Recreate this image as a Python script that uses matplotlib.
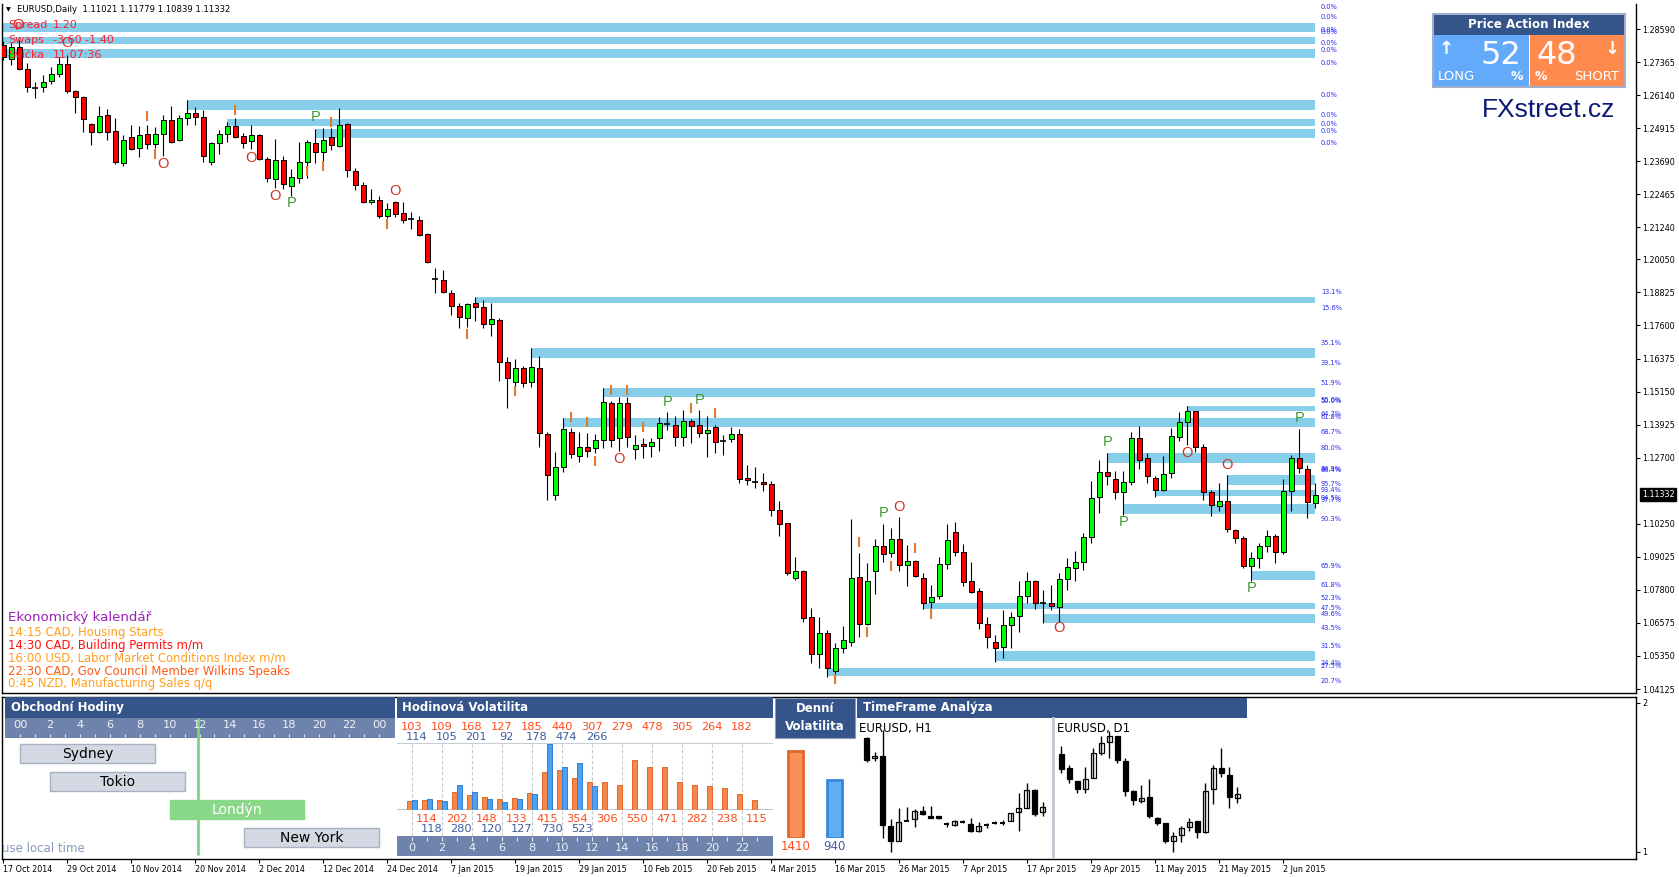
import numpy as np
import matplotlib
matplotlib.use("Agg")
import matplotlib.pyplot as plt
from matplotlib import transforms
from matplotlib.patches import Rectangle

W, H = 1679, 877

# --- denni svicky EURUSD (O, H, L, C) ---
opens = [1.2800, 1.2748, 1.2792, 1.2711, 1.2641, 1.2644, 1.2666, 1.2692, 1.2729, 1.2629,
         1.2607, 1.2507, 1.2477, 1.2540, 1.2481, 1.2362, 1.2459, 1.2418, 1.2470, 1.2433,
         1.2470, 1.2522, 1.2448, 1.2529, 1.2548, 1.2533, 1.2366, 1.2436, 1.2470, 1.2499,
         1.2462, 1.2444, 1.2466, 1.2377, 1.2303, 1.2373, 1.2277, 1.2307, 1.2366, 1.2436,
         1.2403, 1.2459, 1.2425, 1.2507, 1.2333, 1.2281, 1.2218, 1.2225, 1.2166, 1.2218,
         1.2177, 1.2155, 1.2151, 1.2100, 1.1932, 1.1929, 1.1880, 1.1832, 1.1787, 1.1843,
         1.1829, 1.1766, 1.1780, 1.1625, 1.1551, 1.1602, 1.1551, 1.1602, 1.1358, 1.1132,
         1.1235, 1.1365, 1.1276, 1.1310, 1.1306, 1.1336, 1.1473, 1.1343, 1.1473, 1.1302,
         1.1321, 1.1313, 1.1343, 1.1395, 1.1391, 1.1347, 1.1406, 1.1391, 1.1362, 1.1384,
         1.1332, 1.1339, 1.1358, 1.1195, 1.1180, 1.1180, 1.1172, 1.1076, 1.1028, 1.0824,
         1.0850, 1.0679, 1.0542, 1.0620, 1.0479, 1.0564, 1.0587, 1.0828, 1.0653, 1.0850,
         1.0943, 1.0917, 1.0969, 1.0872, 1.0887, 1.0824, 1.0735, 1.0757, 1.0876, 1.0995,
         1.0920, 1.0813, 1.0775, 1.0653, 1.0587, 1.0568, 1.0650, 1.0683, 1.0757, 1.0813,
         1.0733, 1.0731, 1.0716, 1.0820, 1.0861, 1.0883, 1.0976, 1.1124, 1.1217, 1.1191,
         1.1143, 1.1180, 1.1343, 1.1269, 1.1195, 1.1150, 1.1213, 1.1347, 1.1402, 1.1443,
         1.1310, 1.1143, 1.1091, 1.1109, 1.1002, 1.0972, 1.0868, 1.0898, 1.0943, 1.0980,
         1.0920, 1.1146, 1.1269, 1.1228, 1.11021]
highs = [1.2815, 1.2807, 1.2818, 1.2733, 1.2663, 1.2688, 1.2718, 1.2755, 1.2763, 1.2633,
         1.2611, 1.2511, 1.2574, 1.2563, 1.2529, 1.2466, 1.2503, 1.2499, 1.2503, 1.2496,
         1.2540, 1.2574, 1.2540, 1.2596, 1.2570, 1.2559, 1.2440, 1.2485, 1.2514, 1.2529,
         1.2474, 1.2503, 1.2470, 1.2385, 1.2451, 1.2388, 1.2340, 1.2440, 1.2448, 1.2488,
         1.2492, 1.2492, 1.2566, 1.2511, 1.2344, 1.2292, 1.2266, 1.2240, 1.2214, 1.2221,
         1.2218, 1.2181, 1.2166, 1.2103, 1.1973, 1.1966, 1.1892, 1.1843, 1.1843, 1.1866,
         1.1854, 1.1843, 1.1788, 1.1643, 1.1636, 1.1610, 1.1677, 1.1647, 1.1365, 1.1291,
         1.1417, 1.1380, 1.1365, 1.1362, 1.1358, 1.1528, 1.1480, 1.1495, 1.1495, 1.1354,
         1.1343, 1.1343, 1.1421, 1.1439, 1.1424, 1.1447, 1.1413, 1.1447, 1.1424, 1.1391,
         1.1354, 1.1384, 1.1376, 1.1243, 1.1235, 1.1213, 1.1184, 1.1109, 1.1028, 1.0902,
         1.0854, 1.0713, 1.0679, 1.0631, 1.0583, 1.0646, 1.1043, 1.0917, 1.0880, 1.0969,
         1.1024, 1.1009, 1.1050, 1.0946, 1.0891, 1.0842, 1.0798, 1.0902, 1.1024, 1.1032,
         1.0950, 1.0883, 1.0787, 1.0679, 1.0613, 1.0705, 1.0698, 1.0813, 1.0846, 1.0817,
         1.0780, 1.0798, 1.0842, 1.0898, 1.0924, 1.0991, 1.1184, 1.1261, 1.1287, 1.1221,
         1.1221, 1.1365, 1.1387, 1.1287, 1.1202, 1.1276, 1.1380, 1.1439, 1.1462, 1.1443,
         1.1321, 1.1150, 1.1176, 1.1206, 1.1006, 1.0980, 1.0920, 1.0954, 1.1002, 1.0987,
         1.1191, 1.1280, 1.1376, 1.1243, 1.11779]
lows = [1.2744, 1.2726, 1.2707, 1.2625, 1.2603, 1.2625, 1.2655, 1.2681, 1.2622, 1.2548,
        1.2477, 1.2429, 1.2474, 1.2448, 1.2359, 1.2351, 1.2410, 1.2385, 1.2414, 1.2418,
        1.2388, 1.2436, 1.2444, 1.2503, 1.2503, 1.2366, 1.2355, 1.2396, 1.2440, 1.2455,
        1.2418, 1.2414, 1.2373, 1.2292, 1.2270, 1.2266, 1.2240, 1.2288, 1.2307, 1.2362,
        1.2362, 1.2410, 1.2422, 1.2310, 1.2262, 1.2214, 1.2210, 1.2158, 1.2158, 1.2162,
        1.2140, 1.2118, 1.2092, 1.1992, 1.1880, 1.1880, 1.1799, 1.1751, 1.1755, 1.1776,
        1.1751, 1.1721, 1.1554, 1.1454, 1.1532, 1.1532, 1.1532, 1.1310, 1.1113, 1.1113,
        1.1217, 1.1269, 1.1254, 1.1273, 1.1287, 1.1306, 1.1310, 1.1295, 1.1310, 1.1265,
        1.1269, 1.1273, 1.1295, 1.1373, 1.1313, 1.1313, 1.1324, 1.1347, 1.1273, 1.1287,
        1.1280, 1.1328, 1.1176, 1.1168, 1.1158, 1.1146, 1.1054, 1.0980, 1.0835, 1.0817,
        1.0661, 1.0509, 1.0490, 1.0457, 1.0439, 1.0546, 1.0572, 1.0605, 1.0650, 1.0765,
        1.0883, 1.0902, 1.0850, 1.0794, 1.0828, 1.0709, 1.0713, 1.0746, 1.0857, 1.0906,
        1.0794, 1.0768, 1.0635, 1.0564, 1.0513, 1.0527, 1.0564, 1.0624, 1.0731, 1.0709,
        1.0657, 1.0705, 1.0661, 1.0780, 1.0813, 1.0854, 1.0954, 1.1065, 1.1169, 1.1117,
        1.1058, 1.1169, 1.1228, 1.1176, 1.1124, 1.1146, 1.1195, 1.1332, 1.1317, 1.1291,
        1.1113, 1.1054, 1.1072, 1.0995, 1.0954, 1.0861, 1.0813, 1.0861, 1.0920, 1.0879,
        1.0913, 1.1072, 1.1213, 1.1046, 1.10839]
closes = [1.2755, 1.2792, 1.2711, 1.2644, 1.2640, 1.2663, 1.2692, 1.2729, 1.2629, 1.2607,
          1.2526, 1.2477, 1.2537, 1.2477, 1.2366, 1.2448, 1.2414, 1.2466, 1.2433, 1.2470,
          1.2522, 1.2440, 1.2529, 1.2548, 1.2533, 1.2388, 1.2436, 1.2470, 1.2499, 1.2459,
          1.2436, 1.2466, 1.2377, 1.2307, 1.2373, 1.2284, 1.2310, 1.2366, 1.2440, 1.2403,
          1.2448, 1.2429, 1.2503, 1.2336, 1.2281, 1.2218, 1.2225, 1.2166, 1.2192, 1.2173,
          1.2151, 1.2154, 1.2096, 1.1995, 1.1931, 1.1884, 1.1832, 1.1791, 1.1840, 1.1829,
          1.1766, 1.1784, 1.1625, 1.1565, 1.1602, 1.1547, 1.1606, 1.1362, 1.1206, 1.1235,
          1.1376, 1.1284, 1.1310, 1.1295, 1.1336, 1.1476, 1.1336, 1.1473, 1.1347, 1.1317,
          1.1313, 1.1328, 1.1399, 1.1394, 1.1347, 1.1406, 1.1387, 1.1362, 1.1373, 1.1328,
          1.1331, 1.1358, 1.1191, 1.1187, 1.1179, 1.1172, 1.1076, 1.1024, 1.0842, 1.0850,
          1.0676, 1.0542, 1.0620, 1.0490, 1.0564, 1.0594, 1.0824, 1.0653, 1.0813, 1.0943,
          1.0913, 1.0969, 1.0872, 1.0887, 1.0831, 1.0731, 1.0754, 1.0876, 1.0965, 1.0920,
          1.0809, 1.0772, 1.0657, 1.0605, 1.0564, 1.0650, 1.0679, 1.0757, 1.0813, 1.0731,
          1.0732, 1.0720, 1.0820, 1.0865, 1.0883, 1.0976, 1.1121, 1.1217, 1.1202, 1.1143,
          1.1180, 1.1343, 1.1261, 1.1202, 1.1150, 1.1210, 1.1350, 1.1402, 1.1443, 1.1310,
          1.1143, 1.1095, 1.1109, 1.1006, 1.0972, 1.0868, 1.0898, 1.0943, 1.0980, 1.0920,
          1.1146, 1.1269, 1.1232, 1.1105, 1.11332]

date_labels = ['17 Oct 2014', '29 Oct 2014', '10 Nov 2014', '20 Nov 2014', '2 Dec 2014',
               '12 Dec 2014', '24 Dec 2014', '7 Jan 2015', '19 Jan 2015', '29 Jan 2015',
               '10 Feb 2015', '20 Feb 2015', '4 Mar 2015', '16 Mar 2015', '26 Mar 2015',
               '7 Apr 2015', '17 Apr 2015', '29 Apr 2015', '11 May 2015', '21 May 2015',
               '2 Jun 2015']
price_ticks = [1.28590, 1.27365, 1.26140, 1.24915, 1.23690, 1.22465, 1.21240, 1.20050,
               1.18825, 1.17600, 1.16375, 1.15150, 1.13925, 1.12700, 1.10250, 1.09025,
               1.07800, 1.06575, 1.05350, 1.04125]

# --- zony (modre pasy) ---
band_start = [-1, -1, -1, 23, 28, 39, 59, 66, 75, 70, 148, 138, 153, 144, 140, 156, 115, 130, 124, 103]
band_low = [1.28490, 1.28023, 1.27526, 1.25588, 1.24994, 1.24538, 1.18445, 1.16406, 1.14960, 1.13848,
            1.14430, 1.12514, 1.11687, 1.11279, 1.10612, 1.08165, 1.07091, 1.06583, 1.05174, 1.04608]
band_high = [1.28801, 1.28305, 1.27838, 1.25958, 1.25254, 1.24883, 1.18645, 1.16754, 1.15283, 1.14171,
             1.14615, 1.12862, 1.12047, 1.11502, 1.10971, 1.08499, 1.07302, 1.06894, 1.05545, 1.04893]
band_end = 164

pct_labels = ['0.0%'] * 12 + ['13.1%', '15.6%', '35.1%', '39.1%', '51.9%', '55.6%', '50.0%', '64.7%',
                              '61.8%', '68.7%', '80.0%', '84.9%', '86.4%', '95.7%', '93.4%', '94.5%',
                              '97.7%', '90.3%', '65.9%', '61.8%', '52.3%', '47.5%', '49.6%', '43.5%',
                              '31.5%', '24.4%', '27.5%', '20.7%']
pct_prices = [1.29394, 1.29024, 1.28553, 1.28468, 1.28060, 1.27812, 1.27319, 1.26143, 1.25413, 1.25069,
              1.24820, 1.24353, 1.18830, 1.18248, 1.16962, 1.16220, 1.15479, 1.14838, 1.14790, 1.14337,
              1.14226, 1.13651, 1.13069, 1.12298, 1.12242, 1.11723, 1.11501, 1.11193, 1.11119, 1.10426,
              1.08684, 1.07980, 1.07509, 1.07127, 1.06905, 1.06386, 1.05718, 1.05088, 1.04995, 1.04432]

# --- znacky P / O / I ---
mark_bar = [1.8, 8, 18, 19, 20, 29, 31, 34, 36, 39, 41, 38, 40, 49, 48, 58, 64, 71, 73, 74, 76, 78,
            77, 80, 83, 87, 86, 89, 110, 112, 107, 111, 114, 108, 116, 104, 132, 138, 140, 148,
            153, 156, 162]
mark_price = [1.2874, 1.2807, 1.2533, 1.2392, 1.2359, 1.2555, 1.2381, 1.2240, 1.2214, 1.2533,
              1.2511, 1.2329, 1.2348, 1.2258, 1.2132, 1.1725, 1.1513, 1.1417, 1.1399, 1.1254,
              1.1517, 1.1517, 1.1265, 1.1380, 1.1476, 1.1484, 1.1450, 1.1432, 1.1065, 1.1087,
              1.0954, 1.0865, 1.0932, 1.0621, 1.0687, 1.0446, 1.0639, 1.1328, 1.1031, 1.1287,
              1.1243, 1.0787, 1.1417]
mark_letter = ['O', 'O', 'I', 'I', 'O', 'I', 'O', 'O', 'P', 'P', 'I', 'I', 'I', 'O', 'I', 'I', 'I',
               'I', 'I', 'I', 'I', 'I', 'O', 'I', 'P', 'P', 'I', 'I', 'P', 'O', 'I', 'I', 'I', 'I',
               'I', 'I', 'O', 'P', 'P', 'O', 'O', 'P', 'P']

info_labels = ['Spread', 'Swaps', 'Svíčka']
info_values = ['1.20', '-3.60 -1.40', '11:07:36']

cal_lines = ['Ekonomický kalendář', '14:15 CAD, Housing Starts', '14:30 CAD, Building Permits m/m',
             '16:00 USD, Labor Market Conditions Index m/m', '22:30 CAD, Gov Council Member Wilkins Speaks',
             '0:45 NZD, Manufacturing Sales q/q']
cal_colors = ['#9B1FB5', '#FFA020', '#FF1010', '#FFA020', '#FF5A14', '#FFA020']

long_pct, short_pct = 52, 48

# --- obchodni hodiny ---
sessions = ['Sydney', 'Tokio', 'Londýn', 'New York']
sess_start = [0, 2, 10, 15]
sess_len = [9, 9, 9, 9]
current_hour = 11.9

# --- hodinova volatilita ---
vol_or_even = [103, 109, 168, 127, 185, 440, 307, 279, 478, 305, 264, 182]
vol_or_odd = [114, 202, 148, 133, 415, 354, 306, 550, 471, 282, 238, 115]
vol_bl_even = [114, 105, 201, 92, 178, 474, 266]
vol_bl_odd = [118, 280, 120, 127, 730, 523]

day_vol = [1410, 940]

# --- TimeFrame analyza (relativni urovne) ---
h1_open = [357, 295, 302, 92, 47, 108, 112, 137, 122, 122, 97, 95, 105, 97, 77, 94, 102, 102, 108, 135, 147, 200, 133]
h1_close = [290, 302, 95, 48, 105, 108, 137, 127, 117, 115, 97, 107, 105, 77, 92, 94, 102, 102, 130, 147, 200, 128, 148]
h1_high = [360, 315, 380, 113, 145, 148, 143, 152, 152, 123, 105, 110, 110, 117, 103, 100, 108, 110, 130, 190, 220, 203, 163]
h1_low = [285, 288, 57, 15, 47, 107, 90, 125, 115, 114, 88, 92, 100, 75, 75, 85, 97, 96, 108, 78, 147, 123, 123]
d1_open = [307, 265, 228, 203, 237, 312, 345, 362, 287, 197, 168, 178, 117, 102, 48, 64, 90, 107, 75, 202, 265, 245, 175]
d1_close = [263, 233, 203, 232, 310, 340, 362, 290, 198, 170, 175, 122, 102, 47, 62, 87, 103, 75, 197, 265, 250, 180, 187]
d1_high = [332, 275, 228, 268, 325, 362, 377, 362, 295, 200, 215, 232, 120, 102, 75, 92, 117, 107, 220, 275, 325, 268, 210]
d1_low = [250, 220, 190, 190, 235, 305, 295, 282, 182, 154, 160, 115, 95, 42, 15, 45, 78, 55, 72, 158, 238, 145, 162]


def box(x0, y0, x1, y1):
    return [x0 / W, 1 - y1 / H, (x1 - x0) / W, (y1 - y0) / H]


def fx(x):
    return x / W


def fy(y):
    return 1 - y / H


fig = plt.figure(figsize=(W / 100, H / 100), dpi=100)
fig.patch.set_facecolor('white')


def rect(x0, y0, x1, y1, **kw):
    fig.add_artist(Rectangle((fx(x0), fy(y1)), (x1 - x0) / W, (y1 - y0) / H,
                             transform=fig.transFigure, **kw))


# ================= hlavni graf =================
ax = fig.add_axes(box(2, 4, 1636, 693))
ax.set_xlim(-0.1625, 204.09)
ax.set_ylim(1.03977, 1.29517)

o = np.array(opens)
hi = np.array(highs)
lo = np.array(lows)
c = np.array(closes)
idx = np.arange(len(o))
up = c > o + 0.00012
dn = c < o - 0.00012
dj = ~(up | dn)

bs = np.array(band_start)
bl = np.array(band_low)
bh = np.array(band_high)
ax.barh((bl + bh) / 2, band_end - bs, left=bs, height=bh - bl, color='#87CEEB', zorder=1)

ax.vlines(idx, lo, hi, color='black', lw=0.8, zorder=3)
ax.bar(idx[up], (c - o)[up], bottom=o[up], width=0.6, color='#00FF00', edgecolor='black', lw=0.7, zorder=4)
ax.bar(idx[dn], (o - c)[dn], bottom=c[dn], width=0.6, color='#FF0000', edgecolor='black', lw=0.7, zorder=4)
ax.hlines(o[dj], idx[dj] - 0.35, idx[dj] + 0.35, color='black', lw=1.2, zorder=4)

for t, p in zip(pct_labels, pct_prices):
    ax.text(164.7, p, t, fontsize=4.8, color='#2A2AF5', va='center', ha='left', zorder=5)

mark_col = {'P': '#3E9A2E', 'O': '#D0301E', 'I': '#E07A30'}
for b, p, m in zip(mark_bar, mark_price, mark_letter):
    ax.text(b, p, m, fontsize=10.5, color=mark_col[m], ha='center', va='center',
            family='Liberation Sans', weight='bold' if m == 'I' else 'normal', zorder=5)

ax.set_xticks([])
ax.yaxis.tick_right()
ax.set_yticks(price_ticks)
ax.set_yticklabels([f'{v:.5f}' for v in price_ticks])
ax.tick_params(axis='y', length=3, width=0.8, pad=1.5, labelsize=5.8)
ax.spines['top'].set_visible(False)
for s in ['left', 'right', 'bottom']:
    ax.spines[s].set_linewidth(1)

tr_price = transforms.blended_transform_factory(ax.transAxes, ax.transData)
ax.text(1.0035, closes[-1], f'{closes[-1]:.5f}', transform=tr_price, color='white', fontsize=5.8,
        va='center', ha='left', bbox=dict(boxstyle='square,pad=0.25', fc='black', ec='black'),
        clip_on=False)

# texty vlevo nahore
fig.text(fx(6), fy(10), '▼', fontsize=4.5, va='center')
fig.text(fx(17), fy(10), f'EURUSD,Daily  {opens[-1]:.5f} {highs[-1]:.5f} {lows[-1]:.5f} {closes[-1]:.5f}',
         fontsize=6.1, va='center')
for k, (lab, val) in enumerate(zip(info_labels, info_values)):
    yy = 25.5 + 14.6 * k
    fig.text(fx(8), fy(yy), lab, fontsize=8, color='#FF2030', va='center')
    fig.text(fx(53), fy(yy), val, fontsize=8, color='#FF2030', va='center')

# ekonomicky kalendar
for k, (line, col) in enumerate(zip(cal_lines, cal_colors)):
    yy = 618 if k == 0 else 620 + 12.8 * k
    fig.text(fx(8), fy(yy), line, fontsize=9.6 if k == 0 else 8.4, color=col, va='center')

# Price Action Index
rect(1433, 14, 1625, 87, facecolor='none', edgecolor='#A0AECB', lw=1.5)
rect(1434, 15, 1624, 34.5, facecolor='#35548A', edgecolor='none')
rect(1434, 35.5, 1528.5, 86, facecolor='#64AAFA', edgecolor='none')
rect(1530, 35.5, 1624, 86, facecolor='#FF8A4E', edgecolor='none')
fig.text(fx(1529), fy(25), 'Price Action Index', fontsize=8.6, color='white', weight='bold',
         ha='center', va='center')
fig.text(fx(1501), fy(55), str(long_pct), fontsize=23, color='white', ha='center', va='center')
fig.text(fx(1557), fy(55), str(short_pct), fontsize=23, color='white', ha='center', va='center')
fig.text(fx(1446), fy(49), '↑', fontsize=13, color='white', ha='center', va='center', weight='bold')
fig.text(fx(1612), fy(49), '↓', fontsize=13, color='white', ha='center', va='center', weight='bold')
fig.text(fx(1438), fy(76), 'LONG', fontsize=9.5, color='white', ha='left', va='center')
fig.text(fx(1517), fy(77), '%', fontsize=9, color='white', ha='center', va='center', weight='bold')
fig.text(fx(1541), fy(77), '%', fontsize=9, color='white', ha='center', va='center', weight='bold')
fig.text(fx(1619), fy(76), 'SHORT', fontsize=9.5, color='white', ha='right', va='center')
fig.text(fx(1482), fy(110), 'FXstreet.cz', fontsize=19, color='#0B1A78', family='Liberation Sans',
         ha='left', va='center')

# ================= spodni okno =================
sub = fig.add_axes(box(2, 697, 1636, 859))
sub.set_xlim(ax.get_xlim())
sub.set_ylim(0.953, 2.04)
sub.yaxis.tick_right()
sub.set_yticks([1, 2])
sub.set_yticklabels(['1', '2'])
sub.set_xticks(np.arange(0, 161, 8))
sub.set_xticklabels(date_labels, ha='left')
sub.tick_params(axis='x', length=3, width=0.8, pad=1.2, labelsize=5.8)
sub.tick_params(axis='y', length=3, width=0.8, pad=1.5, labelsize=5.8)
for s in sub.spines.values():
    s.set_linewidth(1)

head = '#35548A'
scale_col = '#6E83AB'

# Obchodni hodiny
rect(5, 697, 395, 718, facecolor=head, edgecolor='none')
rect(5, 718, 395, 738, facecolor=scale_col, edgecolor='none')
fig.text(fx(11), fy(707.5), 'Obchodní Hodiny', fontsize=8.5, color='white', weight='bold', va='center')

oh = fig.add_axes(box(5, 738, 395, 858))
oh.set_zorder(2)
oh.axis('off')
oh.set_xlim((5 - 20) / 14.96, (395 - 20) / 14.96)
oh.set_ylim(3.732, -0.5536)
tro = transforms.blended_transform_factory(oh.transData, fig.transFigure)
for h in range(0, 25, 2):
    oh.text(h, fy(724.5), '00' if h in (0, 24) else str(h), transform=tro, fontsize=8.2,
            color='#EEF1F7', ha='center', va='center')
oh.vlines(np.arange(25), fy(737), fy(733.5), transform=tro, color='#E6EAF2', lw=0.8, clip_on=False)
oh.vlines(current_hour, fy(855), fy(718), transform=tro, color='#7CD67C', lw=2, clip_on=False, zorder=1)
rows = np.arange(len(sessions))
sess_face = ['#D4D8E2', '#D4D8E2', '#88D888', '#D4D8E2']
sess_edge = ['#A8B0C4', '#A8B0C4', '#88D888', '#A8B0C4']
sess_txt = ['black', 'black', 'white', 'black']
oh.barh(rows, sess_len, left=sess_start, height=0.68, color=sess_face, edgecolor=sess_edge, lw=1, zorder=2)
for r, name, st, ln, tc in zip(rows, sessions, sess_start, sess_len, sess_txt):
    oh.text(st + ln / 2, r, name, fontsize=10, color=tc, ha='center', va='center', zorder=3)
fig.text(fx(2), fy(848), 'use local time', fontsize=8.5, color='#8A98C0', va='center')

# Hodinova volatilita
rect(397, 697, 773, 718, facecolor=head, edgecolor='none')
rect(397, 836, 773, 856, facecolor=scale_col, edgecolor='none')
fig.text(fx(402), fy(707.5), 'Hodinová Volatilita', fontsize=8.5, color='white', weight='bold', va='center')

hv = fig.add_axes(box(397, 743, 773, 810))
hv.set_zorder(2)
hv.axis('off')
hv.set_xlim(-1, 24.07)
hv.set_ylim(0, 741)
vol_orange = np.empty(24)
vol_orange[0::2] = vol_or_even
vol_orange[1::2] = vol_or_odd
vol_blue = np.empty(13)
vol_blue[0::2] = vol_bl_even
vol_blue[1::2] = vol_bl_odd
hrs = np.arange(24)
hv.vlines(np.arange(0, 24, 2), -0.388, 1, transform=hv.get_xaxis_transform(), colors='#C8C8C8',
          linestyles=(0, (3, 2)), lw=0.8, clip_on=False, zorder=0)
hv.axhline(0, color='#BCC4D0', lw=1.5, zorder=1)
hv.axhline(741, color='#BCC4D0', lw=1.2, zorder=1)
hv.bar(hrs - 0.18, vol_orange, width=0.34, color='#F4894A', edgecolor='#E0682A', lw=0.7, zorder=2)
hv.bar(np.arange(13) + 0.18, vol_blue, width=0.34, color='#4FA0EE', edgecolor='#2F7FD8', lw=0.7, zorder=2)
trh = transforms.blended_transform_factory(hv.transData, fig.transFigure)
for h, v in zip(range(0, 24, 2), vol_or_even):
    hv.text(h, fy(726.5), str(v), transform=trh, fontsize=8.2, color='#FF4A1A', ha='center', va='center')
for h, v in zip(range(0, 13, 2), vol_bl_even):
    hv.text(h + 0.3, fy(737), str(v), transform=trh, fontsize=8.2, color='#3D5C9C', ha='center', va='center')
for h, v in zip(range(1, 24, 2), vol_or_odd):
    hv.text(h, fy(819.5), str(v), transform=trh, fontsize=8.2, color='#FF4A1A', ha='center', va='center')
for h, v in zip(range(1, 12, 2), vol_bl_odd):
    hv.text(h + 0.3, fy(829.5), str(v), transform=trh, fontsize=8.2, color='#3D5C9C', ha='center', va='center')
for h in range(0, 24, 2):
    hv.text(h, fy(848), str(h), transform=trh, fontsize=8.2, color='#EEF1F7', ha='center', va='center')
hv.vlines(np.arange(24), fy(841), fy(837), transform=trh, color='#E6EAF2', lw=0.8, clip_on=False)

# Denni volatilita
rect(775, 698, 855, 738, facecolor=head, edgecolor='#8E9CBC', lw=0.8)
fig.text(fx(815), fy(708), 'Denní', fontsize=8.5, color='white', weight='bold', ha='center', va='center')
fig.text(fx(815), fy(727), 'Volatilita', fontsize=8.5, color='white', weight='bold', ha='center', va='center')
dv = fig.add_axes(box(775, 738, 855, 838))
dv.set_zorder(2)
dv.axis('off')
dv.set_xlim(-0.526, 1.526)
dv.set_ylim(0, 1620.7)
dv.bar([0, 1], day_vol, width=0.385, color=['#F89058', '#62AEF4'], edgecolor=['#E0682A', '#3A88DD'], lw=2)
trd = transforms.blended_transform_factory(dv.transData, fig.transFigure)
dv.text(0, fy(846), str(day_vol[0]), transform=trd, fontsize=8.5, color='#FF4A1A', ha='center', va='center')
dv.text(1, fy(846), str(day_vol[1]), transform=trd, fontsize=8.5, color='#4A5A9C', ha='center', va='center')

# TimeFrame analyza
rect(857, 698, 1247, 718, facecolor=head, edgecolor='none')
fig.text(fx(863), fy(708), 'TimeFrame Analýza', fontsize=8.5, color='white', weight='bold', va='center')


def mini_candles(a, op, hh, ll, cl):
    op, hh, ll, cl = map(np.array, (op, hh, ll, cl))
    k = np.arange(len(op))
    a.vlines(k, ll, hh, color='black', lw=1)
    bull = cl - op > 2
    bear = op - cl > 2
    flat = ~(bull | bear)
    a.bar(k[bull], (cl - op)[bull], bottom=op[bull], width=0.6, color='white', edgecolor='black', lw=0.9)
    a.bar(k[bear], (op - cl)[bear], bottom=cl[bear], width=0.6, color='black', edgecolor='black', lw=0.9)
    a.hlines(op[flat], k[flat] - 0.35, k[flat] + 0.35, color='black', lw=1.4)


h1 = fig.add_axes(box(857, 718, 1053, 856))
h1.set_zorder(2)
h1.axis('off')
h1.set_xlim(-1.21, 23.29)
h1.set_ylim(2, 416)
mini_candles(h1, h1_open, h1_high, h1_low, h1_close)

d1 = fig.add_axes(box(1053, 718, 1247, 856))
d1.set_zorder(2)
d1.axis('off')
d1.set_xlim(-1.04, 23.21)
d1.set_ylim(2, 416)
d1.axvline(-1.04, color='#C4C8D0', lw=2, clip_on=False)
mini_candles(d1, d1_open, d1_high, d1_low, d1_close)
fig.text(fx(859), fy(728.5), 'EURUSD, H1', fontsize=8.5, color='black', va='center')
fig.text(fx(1057), fy(728.5), 'EURUSD, D1', fontsize=8.5, color='black', va='center')

fig.savefig('out.png', dpi=100)
